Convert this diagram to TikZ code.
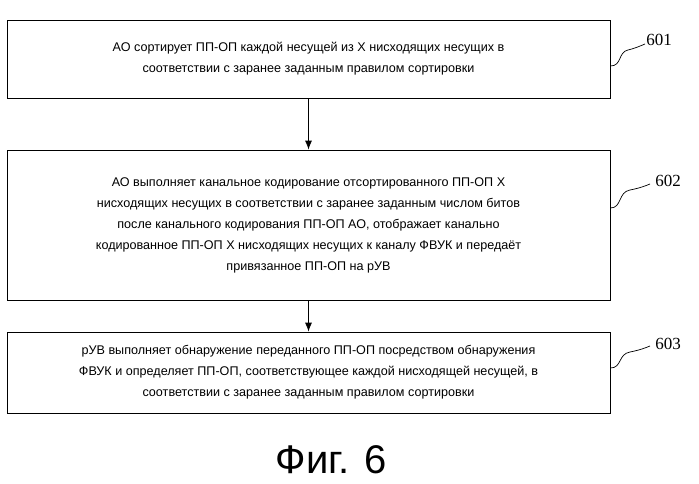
\documentclass[tikz,border=0pt]{standalone}
\usepackage{fontspec}
\setmainfont{Liberation Sans}
\newfontfamily\labfont{Liberation Serif}
\usetikzlibrary{arrows.meta}
\begin{document}
\begin{tikzpicture}[x=1pt,y=-1pt,
  box/.style={draw,line width=0.8pt,minimum width=603pt,align=center,font=\fontsize{12.6}{21}\selectfont},
  arr/.style={-{Latex[length=9pt,width=7pt]},line width=0.8pt},
  lab/.style={font=\labfont\fontsize{17}{18}\selectfont}]
\useasboundingbox (0,0) rectangle (699,483);
\node[box,minimum height=78pt] (b1) at (308.5,59) {АО сортирует ПП-ОП каждой несущей из X нисходящих несущих в\\соответствии с заранее заданным правилом сортировки};
\node[box,minimum height=150pt] (b2) at (308.5,225) {АО выполняет канальное кодирование отсортированного ПП-ОП X\\нисходящих несущих в соответствии с заранее заданным числом битов\\после канального кодирования ПП-ОП АО, отображает канально\\кодированное ПП-ОП X нисходящих несущих к каналу ФВУК и передаёт\\привязанное ПП-ОП на рУВ};
\node[box,minimum height=81pt] (b3) at (308.5,372.5) {рУВ выполняет обнаружение переданного ПП-ОП посредством обнаружения\\ФВУК и определяет ПП-ОП, соответствующее каждой нисходящей несущей, в\\соответствии с заранее заданным правилом сортировки};
\draw[arr] (b1) -- (b2);
\draw[arr] (b2) -- (b3);
\node[lab] (l1) at (659,40) {601};
\node[lab] (l2) at (668,181) {602};
\node[lab] (l3) at (668,344) {603};
\coordinate (c1) at (b1.east |- 0,66);
\coordinate (c2) at (b2.east |- 0,208);
\coordinate (c3) at (b3.east |- 0,368);
\draw[line width=0.7pt] (c1) .. controls (622,66) and (618,52) .. (628,50) .. controls (636,48) and (640,46) .. (645,44);
\draw[line width=0.7pt] (c2) .. controls (622,208) and (618,192) .. (630,190) .. controls (640,188) and (645,186) .. (650,184);
\draw[line width=0.7pt] (c3) .. controls (622,368) and (618,354) .. (630,352) .. controls (640,350) and (645,348) .. (650,346);
\node[font=\fontsize{40}{44}\selectfont] (fig) at (331,460) {Фиг. 6};
\end{tikzpicture}
\end{document}
